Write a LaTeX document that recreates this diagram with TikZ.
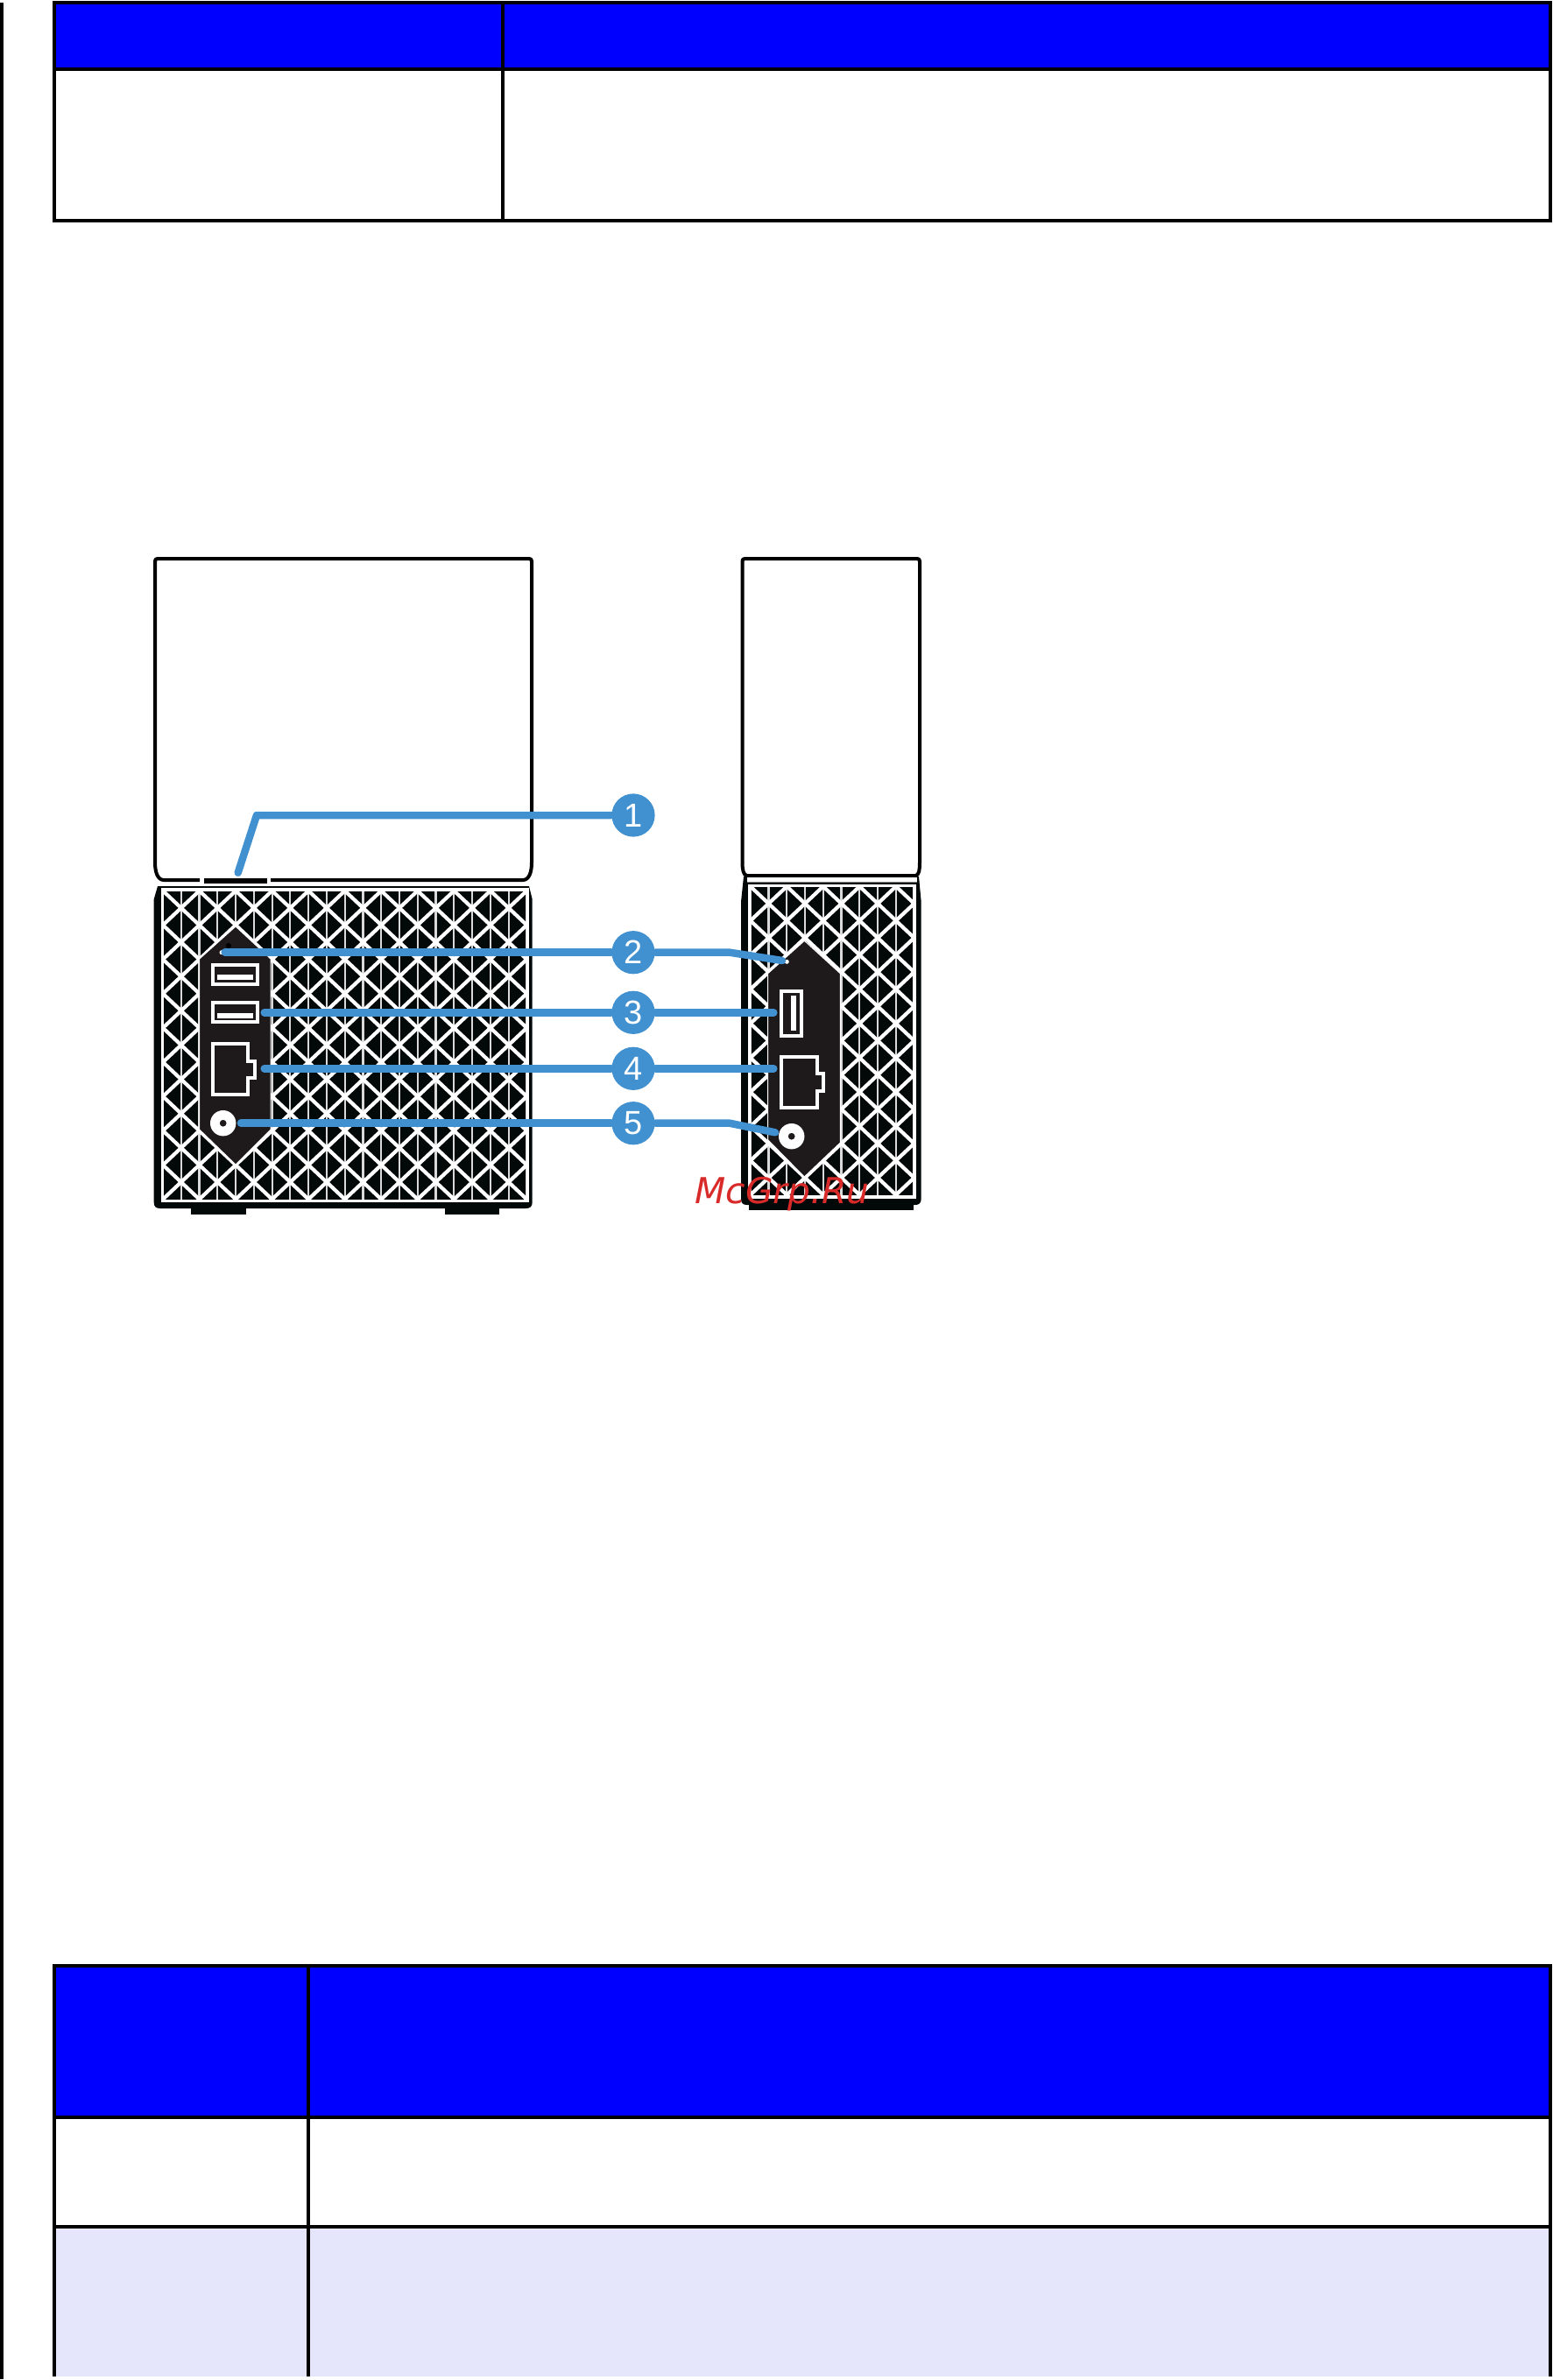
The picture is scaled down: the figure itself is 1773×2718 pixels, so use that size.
\documentclass[tikz,border=0pt]{standalone}
\usepackage{fontspec}
\newfontfamily\digitfont{Liberation Sans}
\newfontfamily\wmfont{DejaVu Sans}
\definecolor{callout}{HTML}{4191D1}
\definecolor{bodyblack}{HTML}{030808}
\definecolor{panel}{HTML}{1E191A}
\definecolor{rowtint}{HTML}{E5E5FC}
\definecolor{wmred}{HTML}{D92A2A}
\newcommand{\mygrille}[6]{% x0 y0 clip: x1 y1 x2 y2
  \begin{scope}
    \clip (#3,#4) rectangle (#5,#6);
    \fill[bodyblack] (#3,#4) rectangle (#5,#6);
    \foreach \k in {0,...,20} \draw[vbar] ({#1+\k*20.77},#4) -- ({#1+\k*20.77},#6);
    \foreach \c in {-24,-22,...,24}
      \draw[diag] ({#1-4*20.77},{#2+(\c-4)*19.57}) -- ({#1+26*20.77},{#2+(\c+26)*19.57});
    \foreach \c in {0,2,...,48}
      \draw[diag] ({#1-4*20.77},{#2+(\c+4)*19.57}) -- ({#1+26*20.77},{#2+(\c-26)*19.57});
  \end{scope}
  \draw[frameline] (#3,#4) rectangle (#5,#6);
}
\tikzset{
  x=0.01cm,y=-0.01cm,
  rule/.style={line width=4.2*0.2845pt,draw=black},
  outline/.style={line width=4*0.2845pt,draw=black,line join=round},
  vbar/.style={line width=2.2*0.2845pt,draw=white!85!black},
  diag/.style={line width=4.2*0.2845pt,draw=white},
  frameline/.style={line width=3.2*0.2845pt,draw=white},
  portline/.style={line width=4*0.2845pt,draw=white},
  panelshape/.style={fill=panel,draw=white,line width=1*0.2845pt},
  leader/.style={line width=8.5*0.2845pt,draw=callout,line cap=round,line join=round},
  bubble/.style={circle,fill=callout,text=white,inner sep=0pt,minimum size=0.492cm,font=\digitfont\fontsize{10.8}{10.8}\selectfont},
}
\begin{document}
\begin{tikzpicture}
\useasboundingbox (0,0) rectangle (1773,2718);
\fill[white] (0,0) rectangle (1773,2718);
% page rule
\fill[black] (0,3) rectangle (4,2717);
% top table
\fill[blue] (62,3) rectangle (1770,79);
\draw[rule] (62,3) rectangle (1770,252);
\draw[rule] (62,79) -- (1770,79);
\draw[rule] (574,3) -- (574,252);
% bottom table
\fill[blue] (62,2245) rectangle (1770,2418);
\fill[rowtint] (62,2543) rectangle (1770,2714);
\draw[rule] (62,2714) -- (62,2245) -- (1770,2245) -- (1770,2714);
\draw[rule] (62,2418) -- (1770,2418);
\draw[rule] (62,2543) -- (1770,2543);
\draw[rule] (352,2245) -- (352,2714);
% ---------- left device
\draw[outline] (228,1005) -- (187,1005) .. controls (180,1005) and (177,996) .. (177,985) -- (177,641) .. controls (177,639) and (178,638) .. (180,638) -- (604,638) .. controls (606,638) and (607,639) .. (607,641) -- (607,985) .. controls (607,996) and (604,1005) .. (597,1005) -- (309,1005);
\fill[black] (233,1003) rectangle (305,1009);
\fill[bodyblack] (218,1378) rectangle (281,1387);
\fill[bodyblack] (508,1378) rectangle (570,1387);
\fill[bodyblack] (180,1012) -- (604,1012) -- (607.7,1027) -- (607.7,1373) .. controls (607.7,1378) and (605,1380) .. (600,1380) -- (183,1380) .. controls (178,1380) and (175.7,1378) .. (175.7,1373) -- (175.7,1027) -- cycle;
\mygrille{186}{1017.3}{185.5}{1016}{602.5}{1371.5}
\draw[panelshape] (269,1058) -- (309,1095) -- (309,1290) -- (269,1330) -- (227.7,1290) -- (227.7,1095) -- cycle;
\fill[black] (261,1080) circle (3);
\fill[white] (253,1087.7) circle (2.5);
\draw[portline] (242.6,1101.6) rectangle (294.4,1124);
\fill[white] (247.7,1113.3) rectangle (289.3,1119.3);
\draw[portline] (242.6,1145) rectangle (294.4,1167.4);
\fill[white] (247.7,1156.7) rectangle (289.3,1162.7);
\draw[portline,line join=miter] (243,1192) -- (283,1192) -- (283,1211.7) -- (290.7,1211.7) -- (290.7,1230.7) -- (283,1230.7) -- (283,1249.7) -- (243,1249.7) -- cycle;
\fill[white,even odd rule] (254.7,1282.7) circle (14.7) (254.7,1282.7) circle (4);
% ---------- right device
\draw[outline] (847.5,985) -- (847.5,641) .. controls (847.5,639) and (848.5,638) .. (850.5,638) -- (1047,638) .. controls (1049,638) and (1050,639) .. (1050,641) -- (1050,985);
\draw[outline] (847.5,985) .. controls (847.5,992) and (848.5,1000) .. (853,1000) -- (1045,1000) .. controls (1049.5,1000) and (1050,992) .. (1050,985);
\fill[bodyblack] (855,1372) rectangle (1042.7,1382);
\fill[bodyblack] (849,1001) -- (1049,1001) -- (1051.7,1030) -- (1051.7,1369) .. controls (1051.7,1374) and (1049,1376) .. (1045,1376) -- (853,1376) .. controls (848,1376) and (846,1374) .. (846,1369) -- (846,1030) -- cycle;
\fill[white] (852.5,1002) rectangle (1047,1007);
\draw[line width=0.3pt,draw=gray] (852.5,1007.5) -- (1047,1007.5);
\mygrille{856.7}{1012.3}{855.7}{1011.5}{1044}{1367}
\draw[panelshape] (918.3,1074.3) -- (959.3,1111.7) -- (959.3,1305) -- (918.3,1344) -- (876.7,1301.7) -- (876.7,1111.7) -- cycle;
\fill[white] (898.3,1098.3) circle (2.5);
\draw[portline] (892,1131.7) rectangle (915,1182.6);
\fill[white] (903,1136.7) rectangle (909.3,1177.3);
\draw[portline,line join=miter] (892,1206.7) -- (933.3,1206.7) -- (933.3,1226) -- (940,1226) -- (940,1245.7) -- (933.3,1245.7) -- (933.3,1265) -- (892,1265) -- cycle;
\fill[white,even odd rule] (903.7,1297.7) circle (14.7) (903.7,1297.7) circle (4);
% ---------- callouts
\node[bubble] (b1) at (723,931) {1};
\node[bubble] (b2) at (723,1087.7) {2};
\node[bubble] (b3) at (723,1156.3) {3};
\node[bubble] (b4) at (723,1220.3) {4};
\node[bubble] (b5) at (723,1282.7) {5};
\coordinate (t1a) at (271.7,996.7);
\coordinate (t1k) at (293,931);
\coordinate (t2a) at (256.7,1087.7);
\coordinate (t2k) at (833,1087.7);
\coordinate (t2b) at (893,1097);
\coordinate (t3a) at (301.7,1156.3);
\coordinate (t3b) at (883.3,1156.3);
\coordinate (t4a) at (301.7,1220.3);
\coordinate (t4b) at (883.3,1220.3);
\coordinate (t5a) at (275,1282.7);
\coordinate (t5k) at (833,1282.7);
\coordinate (t5b) at (885,1293.3);
\draw[leader] (t1a) -- (t1k) -- (b1);
\draw[leader] (t2a) -- (b2);
\draw[leader] (b2) -- (t2k) -- (t2b);
\draw[leader] (t3a) -- (b3);
\draw[leader] (b3) -- (t3b);
\draw[leader] (t4a) -- (b4);
\draw[leader] (b4) -- (t4b);
\draw[leader] (t5a) -- (b5);
\draw[leader] (b5) -- (t5k) -- (t5b);
% watermark
\node[anchor=base west,inner sep=0pt,text=wmred,font=\wmfont\itshape\fontsize{11.6}{11.6}\selectfont] (wm) at (793,1374) {McGrp.Ru};
\end{tikzpicture}
\end{document}
